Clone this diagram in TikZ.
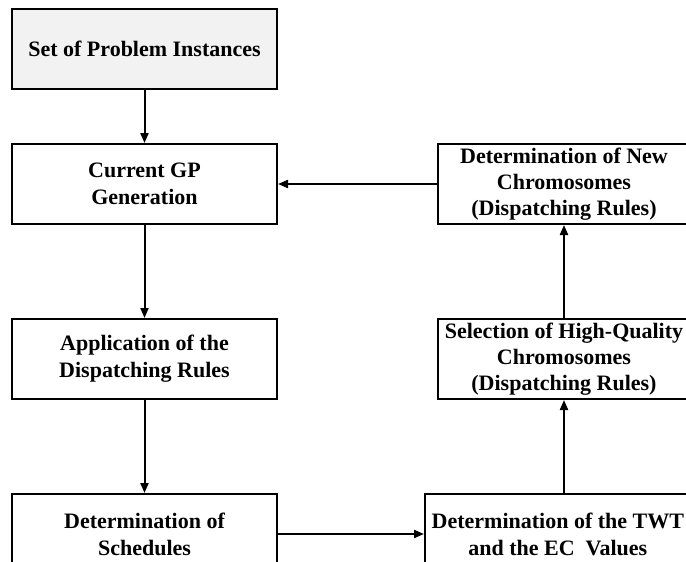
\documentclass[tikz,border=0pt]{standalone}
\usepackage{fontspec}
\setmainfont{Liberation Serif}
\usetikzlibrary{positioning, arrows.meta}
\definecolor{boxGrey}{HTML}{F2F2F2}

\begin{document}
\begin{tikzpicture}[x=0.5pt, y=0.5pt, every node/.style={align=center},
    stagebox/.style={draw, line width=1pt, minimum width=132.5pt, minimum height=40pt, font=\bfseries\fontsize{11}{13.5}\selectfont},
    ruleBox/.style={stagebox, minimum width=126pt, inner ysep=0pt, font=\bfseries\fontsize{11}{13}\selectfont},
    flow/.style={line width=1pt, -{Triangle[length=5pt, width=4pt]}}]
    \useasboundingbox (0,0) rectangle (686,-562);
    \clip (0,0) rectangle (686,-562);
    \node[stagebox, fill=boxGrey] (instances) at (144.5,-49) {Set of Problem Instances};
    \node[stagebox, below=26.5pt of instances] (current) {Current GP\\Generation};
    \node[stagebox, below=46.5pt of current] (apply) {Application of the\\Dispatching Rules};
    \node[stagebox, below=46.5pt of apply] (schedules) {Determination of\\Schedules};
    \node[stagebox, minimum width=132pt, right=73pt of schedules] (values) {Determination of the TWT\\and the EC\ \ Values};
    \node[ruleBox, right=79.5pt of apply] (selection) {Selection of High-Quality\\Chromosomes\\(Dispatching Rules)};
    \node[ruleBox, right=79.5pt of current] (newchrom) {Determination of New\\Chromosomes\\(Dispatching Rules)};
    \draw[flow] (instances) -- (current);
    \draw[flow] (current) -- (apply);
    \draw[flow] (apply) -- (schedules);
    \draw[flow] (schedules) -- (values);
    \draw[flow] (values.north -| selection.south) -- (selection);
    \draw[flow] (selection) -- (newchrom);
    \draw[flow] (newchrom) -- (current);
  \end{tikzpicture}
\end{document}
